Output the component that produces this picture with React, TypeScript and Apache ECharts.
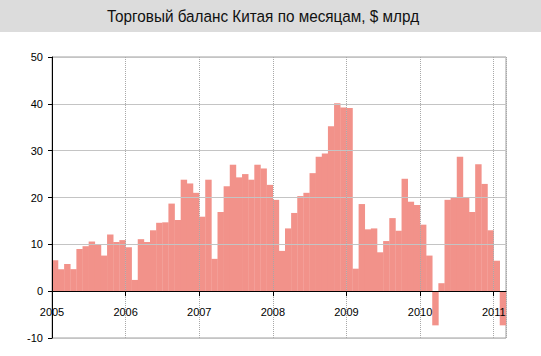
import React, { useEffect, useRef } from "react";
import * as echarts from "echarts";

const title = "Торговый баланс Китая по месяцам, $ млрд";
const startYear = 2005;
const months = [
  "2005-01","2005-02","2005-03","2005-04","2005-05","2005-06","2005-07","2005-08","2005-09","2005-10","2005-11","2005-12",
  "2006-01","2006-02","2006-03","2006-04","2006-05","2006-06","2006-07","2006-08","2006-09","2006-10","2006-11","2006-12",
  "2007-01","2007-02","2007-03","2007-04","2007-05","2007-06","2007-07","2007-08","2007-09","2007-10","2007-11","2007-12",
  "2008-01","2008-02","2008-03","2008-04","2008-05","2008-06","2008-07","2008-08","2008-09","2008-10","2008-11","2008-12",
  "2009-01","2009-02","2009-03","2009-04","2009-05","2009-06","2009-07","2009-08","2009-09","2009-10","2009-11","2009-12",
  "2010-01","2010-02","2010-03","2010-04","2010-05","2010-06","2010-07","2010-08","2010-09","2010-10","2010-11","2010-12",
  "2011-01","2011-02",
];
const balance = [
  6.6, 4.7, 5.8, 4.7, 9.0, 9.6, 10.6, 10.0, 7.6, 12.1, 10.5, 10.9,
  9.4, 2.4, 11.1, 10.5, 13.0, 14.6, 14.7, 18.7, 15.2, 23.8, 23.0, 21.0,
  15.9, 23.8, 6.9, 16.9, 22.4, 27.0, 24.3, 25.0, 23.8, 27.0, 26.2, 22.7,
  19.5, 8.6, 13.4, 16.7, 20.3, 21.0, 25.2, 28.7, 29.4, 35.2, 40.1, 39.2,
  39.1, 4.8, 18.6, 13.2, 13.4, 8.3, 10.7, 15.6, 12.9, 24.0, 19.1, 18.4,
  14.2, 7.6, -7.3, 1.7, 19.5, 20.0, 28.7, 20.0, 16.9, 27.1, 22.9, 13.0,
  6.5, -7.3,
];
const yTicks = { min: -10, max: 50, step: 10 };

export default function App() {
  const ref = useRef<HTMLDivElement>(null);
  useEffect(() => {
    if (!ref.current) return;
    const chart = echarts.init(ref.current, null, { renderer: "svg" });
    const font = "'Liberation Sans', Arial, sans-serif";
    const W = 541;
    const H = 356;
    const gridLeft = 52;
    const gridRight = 35;
    const gridTop = 57;
    const gridBottom = 18;
    const plotWidth = W - gridLeft - gridRight;
    const plotHeight = H - gridTop - gridBottom;
    const barW = plotWidth / months.length + 0.3;
    // shift the x axis from the bottom edge up to the zero line
    const zeroOffset = -plotHeight * (0 - yTicks.min) / (yTicks.max - yTicks.min);
    chart.setOption({
      animation: false,
      backgroundColor: "#ffffff",
      graphic: [
        {
          type: "rect",
          left: 0,
          top: 0,
          shape: { width: W, height: 32 },
          style: { fill: "#dcdcdc" },
          z: -10,
        },
        {
          type: "text",
          x: 263,
          y: 16,
          scaleX: 0.9,
          style: {
            text: title,
            fontFamily: font,
            fontSize: 17,
            fill: "#111",
            textAlign: "center",
            textVerticalAlign: "middle",
          },
        },
      ],
      grid: {
        left: gridLeft,
        right: gridRight,
        top: gridTop,
        bottom: gridBottom,
        show: true,
        borderColor: "#a0a0a0",
        borderWidth: 1,
        backgroundColor: "transparent",
      },
      xAxis: {
        type: "value",
        min: 0,
        max: months.length,
        interval: 12,
        z: 5,
        offset: zeroOffset,
        axisLine: { show: true, onZero: false, lineStyle: { color: "#000", width: 1 } },
        axisTick: { show: true, length: 5, inside: false, lineStyle: { color: "#000" } },
        axisLabel: {
          show: true,
          margin: 15,
          fontSize: 11,
          color: "#000",
          fontFamily: font,
          formatter: (v: number) => String(startYear + Math.round(v / 12)),
        },
        splitLine: { show: true, lineStyle: { color: "#a8a8a8", type: "dotted", width: 1 } },
      },
      yAxis: {
        type: "value",
        min: yTicks.min,
        max: yTicks.max,
        interval: yTicks.step,
        z: 5,
        axisLine: { show: true, onZero: false, lineStyle: { color: "#000", width: 1 } },
        axisTick: { show: true, length: 4, lineStyle: { color: "#000" } },
        axisLabel: { fontSize: 11, color: "#000", margin: 9, fontFamily: font },
        splitLine: { show: true, lineStyle: { color: "#c4c4c4", width: 1 } },
      },
      series: [
        {
          type: "bar",
          name: "balance",
          data: balance.map((v, i) => [i + 0.5, v]),
          barWidth: barW,
          z: 1,
          itemStyle: { color: "#f2928a" },
        },
      ],
    });
    return () => chart.dispose();
  }, []);
  return (
    <div
      ref={ref}
      style={{ position: "fixed", left: 0, top: 0, width: 541, height: 356 }}
    />
  );
}
